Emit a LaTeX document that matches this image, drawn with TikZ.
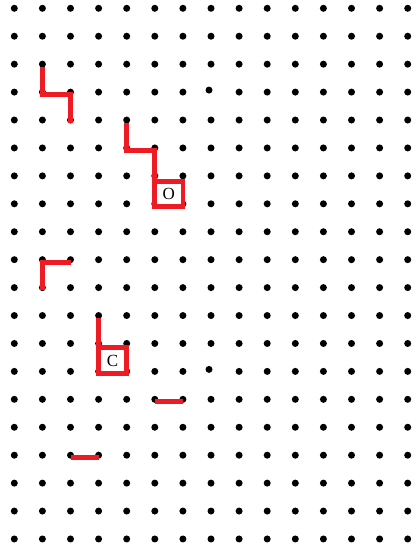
\documentclass[tikz,border=0pt]{standalone}
\usepackage{fontspec}
\setmainfont{Liberation Serif}
\begin{document}
\begin{tikzpicture}[x=28.1pt,y=-27.93pt,
		griddot/.style={fill={rgb, 255:red, 0; green, 0; blue, 0 }},
		redpath/.style={draw={rgb, 255:red, 237; green, 28; blue, 36 },line width=4.8pt,yshift=-2.5pt},
		boxlabel/.style={inner sep=0.75pt,font=\fontsize{17}{17}\selectfont,yshift=-2.5pt}]
			%set diagram to the size of the sheet
			\useasboundingbox (-0.509,-0.297) rectangle (14.402,19.359);
			
			%Dots: grid of 15 x 20
			\foreach \c in {0,...,14}{
				\foreach \r in {0,...,19}{
					\pgfmathtruncatemacro\offgrid{(\c==7)&&((\r==3)||(\r==13))}
					\ifnum\offgrid=0 \fill [griddot] (\c,\r) circle (3.5pt); \fi
				}
			}
			%Dots: two set a little off the grid
			\fill [griddot,xshift=-2pt,yshift=2pt] (7,3) circle (3.5pt);
			\fill [griddot,xshift=-2pt,yshift=2pt] (7,13) circle (3.5pt);
			
			%Shape: Step top left
			\draw [redpath] (1,2) -- (1,3) -- (2,3) -- (2,4) ;
			%Shape: Step into box O
			\draw [redpath] (4,4) -- (4,5) -- (5,5) -- (5,6.1) ;
			\draw [redpath,fill={rgb, 255:red, 255; green, 255; blue, 255 }] (5,6.1) rectangle (6,7) ;
			%Shape: Corner
			\draw [redpath] (2,9) -- (1,9) -- (1,10) ;
			%Shape: Stem into box C
			\draw [redpath] (3,11) -- (3,12.05) ;
			\draw [redpath,fill={rgb, 255:red, 255; green, 255; blue, 255 }] (3,12.05) rectangle (4,13) ;
			%Straight Lines
			\draw [redpath] (5,14) -- (6,14) ;
			\draw [redpath] (2,16) -- (3,16) ;
			
			% Text Node
			\node [boxlabel] (labelO) at (5.5,6.55) {O};
			% Text Node
			\node [boxlabel] (labelC) at (3.5,12.52) {C};
		\end{tikzpicture}
\end{document}
